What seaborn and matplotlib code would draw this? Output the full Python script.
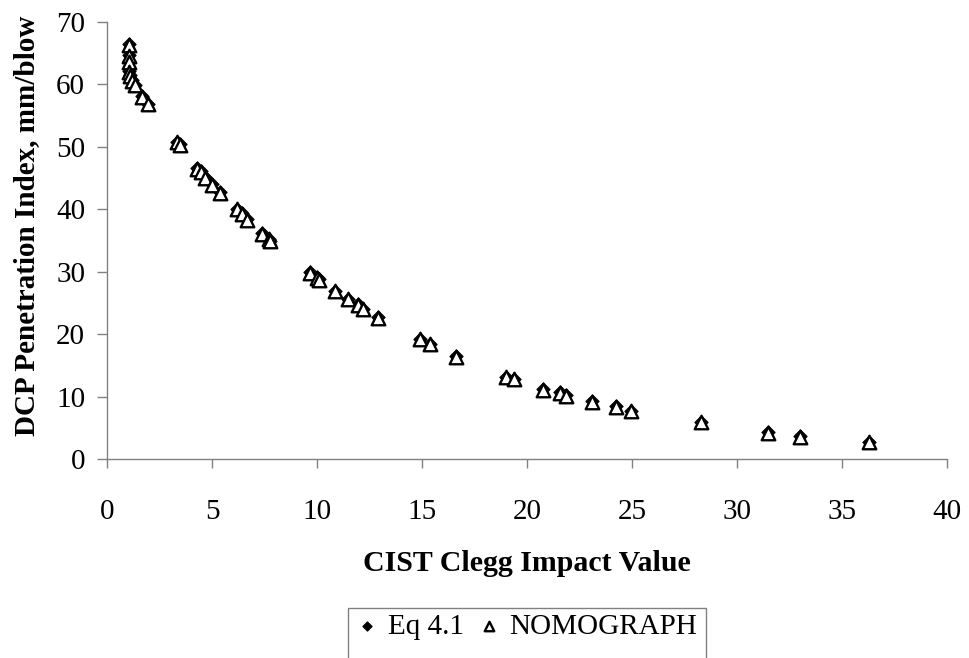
import numpy as np
import pandas as pd
import matplotlib
matplotlib.use('Agg')
import matplotlib.pyplot as plt
import seaborn as sns
from matplotlib.patches import Rectangle

# data
clegg = [1.05, 1.05, 1.05, 1.05, 1.1, 1.2, 1.3, 1.65, 1.95,
         3.3, 3.45, 4.25, 4.45, 4.65, 4.97, 5.38, 6.2, 6.4, 6.64,
         7.35, 7.7, 7.75, 9.64, 9.97, 10.1, 10.84, 11.48, 11.95, 12.19,
         12.9, 14.9, 15.37, 16.6, 19.01, 19.37, 20.77, 21.55, 21.85,
         23.07, 24.22, 24.97, 28.3, 31.45, 33.02, 36.3]
dpi_nomo = [66.2, 64.5, 63.6, 62.0, 61.3, 60.5, 59.8, 58.0, 56.8,
            50.7, 50.3, 46.5, 46.0, 45.0, 43.9, 42.6, 40.0, 39.3, 38.3,
            36.1, 35.2, 34.9, 29.8, 29.0, 28.7, 26.9, 25.6, 24.7, 24.0,
            22.6, 19.2, 18.4, 16.4, 13.1, 12.8, 11.1, 10.6, 10.2,
            9.2, 8.4, 7.7, 5.9, 4.2, 3.6, 2.7]
dpi_eq = [66.4, 64.6, 63.7, 62.1, 61.4, 60.6, 59.9, 58.1, 56.9,
          50.8, 50.4, 46.6, 46.1, 45.1, 44.0, 42.7, 40.1, 39.4, 38.4,
          36.2, 35.3, 35.0, 29.9, 29.1, 28.8, 27.0, 25.7, 24.8, 24.1,
          22.7, 19.3, 18.5, 16.5, 13.2, 12.9, 11.2, 10.7, 10.3,
          9.3, 8.5, 7.8, 6.0, 4.3, 3.7, 2.8]

x_ticks = [0, 5, 10, 15, 20, 25, 30, 35, 40]
y_ticks = [0, 10, 20, 30, 40, 50, 60, 70]

df = pd.DataFrame({
    'x': clegg + clegg,
    'y': dpi_eq + dpi_nomo,
    'series': ['Eq 4.1'] * len(clegg) + ['NOMOGRAPH'] * len(clegg),
})

sns.set_style('white')
plt.rcParams['font.family'] = ['Liberation Serif', 'DejaVu Serif']
plt.rcParams['text.color'] = 'black'

fig = plt.figure(figsize=(9.69, 6.58), dpi=100)
ax = fig.add_axes([107.3 / 969, 1 - 459.3 / 658, (947 - 107.3) / 969, (459.3 - 21.7) / 658])

sns.scatterplot(data=df[df['series'] == 'Eq 4.1'], x='x', y='y', marker='D',
                s=45, color='black', edgecolor='black', linewidth=0.8,
                label='Eq 4.1', ax=ax, zorder=3)
sns.scatterplot(data=df[df['series'] == 'NOMOGRAPH'], x='x', y='y', marker='^',
                s=95, color='white', edgecolor='black', linewidth=1.7,
                label='NOMOGRAPH', ax=ax, zorder=4)

ax.set_xlim(0, 40)
ax.set_ylim(0, 70)
ax.set_xticks(x_ticks)
ax.set_yticks(y_ticks)
ax.tick_params(axis='x', direction='out', length=6.5, width=1, color='#808080',
               labelsize=21, pad=22, bottom=True, labelcolor='black')
ax.tick_params(axis='y', direction='out', length=7, width=1, color='#808080',
               labelsize=21, pad=9, left=True, labelcolor='black')
for side in ['top', 'right']:
    ax.spines[side].set_visible(False)
for side in ['left', 'bottom']:
    ax.spines[side].set_color('#808080')
    ax.spines[side].set_linewidth(1)

ax.set_xlabel('CIST Clegg Impact Value', fontsize=21.5, fontweight='bold', color='black')
ax.set_ylabel('DCP Penetration Index, mm/blow', fontsize=21, fontweight='bold', color='black')
ax.xaxis.set_label_coords(0.5, -0.237)
ax.xaxis.label.set_va('center')
ax.yaxis.set_label_coords(-0.0956, 0.533)
ax.yaxis.label.set_va('center')

ax.get_legend().remove()
handles, labels = ax.get_legend_handles_labels()
leg = fig.legend(handles, labels, loc='upper center', ncol=2, frameon=False,
                 bbox_to_anchor=(527 / 969, 1 - 596 / 658), fontsize=21,
                 handlelength=0.7, handletextpad=0.35, columnspacing=0.5,
                 markerscale=0.7, borderpad=0.1)
for t in leg.get_texts():
    t.set_color('black')
fig.patches.append(Rectangle((348 / 969, -0.05), (706 - 348) / 969, 0.05 + (658 - 608) / 658,
                             transform=fig.transFigure, fill=False,
                             edgecolor='#808080', linewidth=1))

fig.savefig('out.png', dpi=100, facecolor='white')
